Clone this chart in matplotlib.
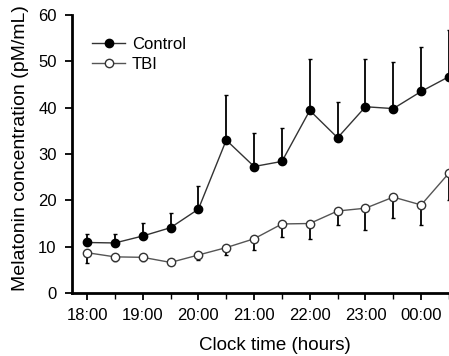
import numpy as np
import matplotlib
matplotlib.use("Agg")
import matplotlib.pyplot as plt
import matplotlib.ticker as ticker

plt.rcParams['font.family'] = ['Liberation Sans', 'DejaVu Sans']

# hours after 18:00, one sample every half hour
hours = [0, 0.5, 1, 1.5, 2, 2.5, 3, 3.5, 4, 4.5, 5, 5.5, 6, 6.5]
tick_pos = [0, 1, 2, 3, 4, 5, 6]
tick_labels = ["18:00", "19:00", "20:00", "21:00", "22:00", "23:00", "00:00"]

control = [10.9, 10.8, 12.3, 14.1, 18.1, 33.0, 27.3, 28.4, 39.4, 33.5, 40.2, 39.8, 43.5, 46.7]
control_up = [1.8, 1.9, 2.9, 3.1, 5.0, 9.8, 7.3, 7.2, 11.1, 7.7, 10.3, 10.0, 9.5, 10.1]

tbi = [8.7, 7.8, 7.7, 6.6, 8.2, 9.8, 11.7, 14.9, 15.0, 17.7, 18.3, 20.7, 19.0, 25.9]
tbi_down = [2.2, 1.0, 0.9, 0.0, 1.1, 1.6, 2.4, 2.9, 3.4, 3.0, 4.7, 4.6, 4.3, 5.8]

fig = plt.figure(figsize=(4.49, 3.56), dpi=100)
# left spine at x=72px, y=0 at 293px, y=60 at 15px, axis runs off the right edge
ax = fig.add_axes([72/449, (356-293)/356, 1 - 72/449, (293-15)/356])

z = np.zeros(len(hours))
ax.errorbar(hours, control, yerr=[z, control_up], fmt='none', ecolor='black',
            elinewidth=1.3, capsize=1.5, capthick=1.0, zorder=2, clip_on=False)
ax.errorbar(hours, tbi, yerr=[tbi_down, z], fmt='none', ecolor='black',
            elinewidth=1.3, capsize=1.5, capthick=1.0, zorder=2, clip_on=False)

ax.plot(hours, control, color='#333333', linewidth=1.0, marker='o', markersize=6,
        markerfacecolor='black', markeredgecolor='black', label='Control', zorder=3)
ax.plot(hours, tbi, color='#555555', linewidth=1.0, marker='o', markersize=6,
        markerfacecolor='white', markeredgecolor='#333333', markeredgewidth=1.0,
        label='TBI', zorder=3)

ax.set_xlim(-0.27, 6.5)
ax.set_ylim(0, 60)
ax.set_xticks(tick_pos)
ax.set_xticklabels(tick_labels)
ax.xaxis.set_minor_locator(ticker.MultipleLocator(0.5))
ax.set_yticks([0, 10, 20, 30, 40, 50, 60])

for s in ['top', 'right']:
    ax.spines[s].set_visible(False)
ax.spines['left'].set_linewidth(2.0)
ax.spines['bottom'].set_linewidth(2.0)

ax.tick_params(which='major', direction='out', length=5, width=1.3,
               labelsize=12, pad=6)
ax.tick_params(which='minor', direction='out', length=4, width=1.0)

fig.text(275/449, 1 - 346/356, "Clock time (hours)", ha='center', va='center', fontsize=13.5)
fig.text(21/449, 1 - 148/356, "Melatonin concentration (pM/mL)", ha='center', va='center',
         rotation=90, fontsize=14)

ax.legend(loc='upper left', bbox_to_anchor=(0.035, 0.945), frameon=False, fontsize=12,
          handlelength=2.0, handletextpad=0.4, labelspacing=0.3, borderaxespad=0)

fig.savefig("out.png", dpi=100)
